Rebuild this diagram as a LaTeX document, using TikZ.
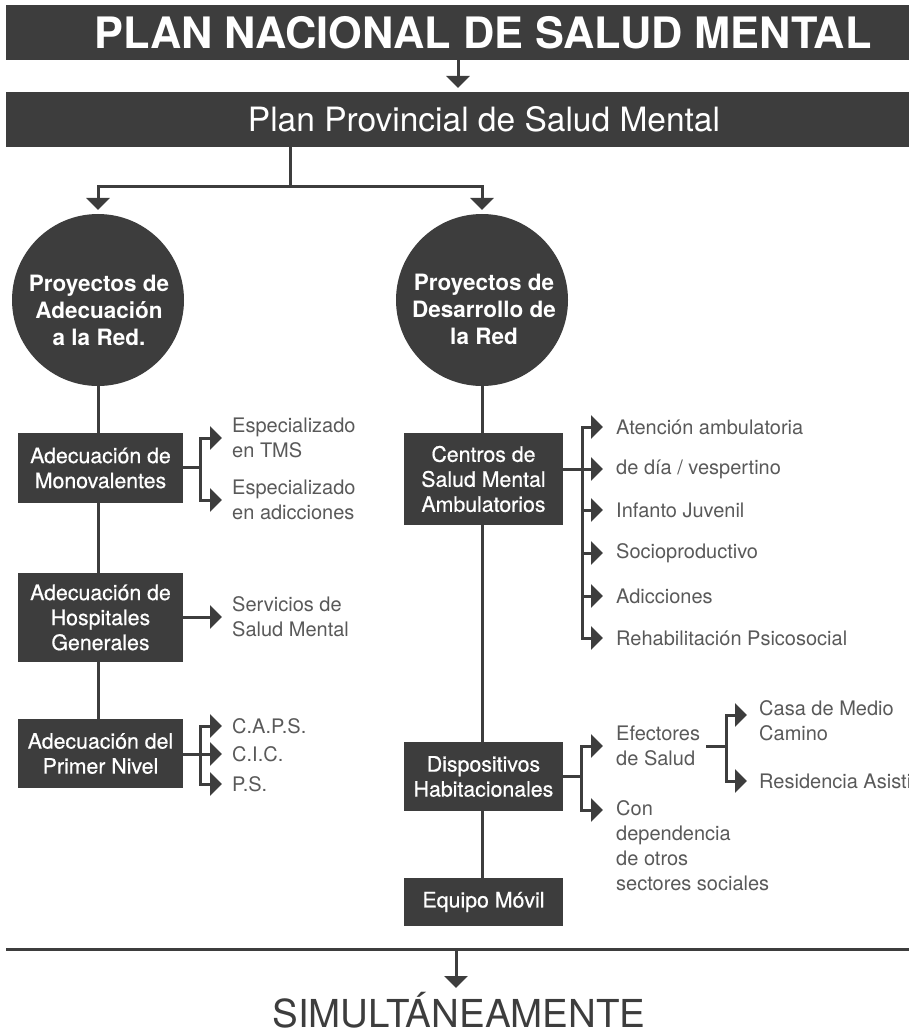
\documentclass[tikz,border=0pt]{standalone}
\usepackage{fontspec}
\setmainfont{TeX Gyre Heros}
\newfontfamily\medfont[FakeBold=0.6]{TeX Gyre Heros}
\usetikzlibrary{arrows.meta}
\definecolor{dk}{HTML}{3D3D3D}
\definecolor{lbl}{HTML}{595959}
\begin{document}
\begin{tikzpicture}[x=1pt,y=-1pt,
  conn/.style={draw=dk,line width=3pt},
  arr/.style={conn,-{Triangle[width=23pt,length=12pt]}},
  bar/.style={fill=dk,inner sep=0,minimum width=903pt,minimum height=55pt},
  box/.style={fill=dk,text=white,inner sep=0,align=center,font=\medfont\fontsize{21.3}{25}\selectfont,minimum width=165pt},
  rbox/.style={box,minimum width=159pt},
  circ/.style={circle,fill=dk,inner sep=0,minimum size=172pt},
  ctext/.style={text=white,inner sep=0,align=center,font=\fontsize{22.5}{27}\selectfont\bfseries},
  lab/.style={text=lbl,inner sep=0,align=left,anchor=west,font=\fontsize{20}{25}\selectfont},
]
\useasboundingbox (0,0) rectangle (909,1032);
% coordinates for connector columns
\coordinate (ta) at (458,0);
\coordinate (pj) at (290,187);
\coordinate (k1) at (200,0);
\coordinate (k2) at (582,0);
\coordinate (k3) at (581,0);
\coordinate (k4) at (726,0);
\coordinate (conA) at (603,810);
\coordinate (casaA) at (747,715);
\coordinate (bl) at (6,949);
\coordinate (br) at (909,949);
\coordinate (xb) at (456,949);
\coordinate (simA) at (456,988);

% labels
\node[lab] (e1) at (232,438) {Especializado\\en TMS};
\node[lab] (e2) at (232,500) {Especializado\\en adicciones};
\node[lab] (sv) at (232,617) {Servicios de\\Salud Mental};
\node[lab] (cp) at (232,726) {C.A.P.S.};
\node[lab] (ci) at (232,754) {C.I.C.};
\node[lab] (ps) at (232,784) {P.S.};
\node[lab] (r1) at (616,427) {Atención ambulatoria};
\node[lab] (r2) at (616,469) {de día / vespertino};
\node[lab] (r3) at (616,510) {Infanto Juvenil};
\node[lab] (r4) at (616,553) {Socioproductivo};
\node[lab] (r5) at (616,596) {Adicciones};
\node[lab] (r6) at (616,638) {Rehabilitación Psicosocial};
\node[lab] (ef) at (616,746) {Efectores\\de Salud};
\node[lab] (con) at (616,845.5) {Con\\dependencia\\de otros\\sectores sociales};
\node[lab] (casa) at (759,720.5) {Casa de Medio\\Camino};
\node[lab] (res) at (759,781) {Residencia Asisti};

% connectors
\draw[arr,shorten >=4pt] (ta |- 0,60) -- (ta |- 0,92);
\draw[conn] (pj |- 0,147) -- (pj);
\draw[arr] (pj) -| (98,210);
\draw[arr] (pj) -| (482,210);

\draw[conn] (98,300) -- (98,753);
\draw[conn] (482,300) -- (482,902);

\draw[conn] (183,467) -- (k1 |- 0,467);
\draw[arr,shorten >=10pt] (k1 |- 0,467) |- (e1.west);
\draw[arr,shorten >=10pt] (k1 |- 0,467) |- (e2.west);
\draw[arr,shorten >=10pt] (183,617) -- (sv.west);
\draw[arr,shorten >=10pt] (183,754) -- (ci.west);
\draw[arr,shorten >=10pt] (k1 |- ci.west) |- (cp.west);
\draw[arr,shorten >=10pt] (k1 |- ci.west) |- (ps.west);

\draw[arr,shorten >=13pt] (563,469) -- (r2.west);
\foreach \r in {r1,r3,r4,r5,r6}
  \draw[arr,shorten >=13pt] (k2 |- r2.west) |- (\r.west);

\draw[conn] (563,776) -- (k3 |- 0,776);
\draw[arr,shorten >=13pt] (k3 |- 0,776) |- (ef.west);
\draw[arr] (k3 |- 0,776) |- (conA);

\draw[conn] ([xshift=6pt]ef.east) -- (k4 |- ef.east);
\draw[arr] (k4 |- ef.east) |- (casaA);
\draw[arr,shorten >=12pt] (k4 |- ef.east) |- (res.west);

\draw[conn] (bl) -- (br);
\draw[arr] (xb) -- (simA);

% bars
\node[bar] (nat) at (457.5,32.5) {};
\node[text=white,inner sep=0,font=\fontsize{43.3}{43.3}\selectfont\bfseries] (natT) at (483,33) {PLAN NACIONAL DE SALUD MENTAL};
\node[bar] (prov) at (457.5,119.5) {};
\node[text=white,inner sep=0,font=\fontsize{33.5}{33.5}\selectfont] (provT) at (484,119.5) {Plan Provincial de Salud Mental};

% circles
\node[circ] (c1) at (98,300) {};
\node[ctext] (c1t) at (99,310) {Proyectos de\\Adecuación\\a la Red.};
\node[circ] (c2) at (482,300) {};
\node[ctext] (c2t) at (484,309) {Proyectos de\\Desarrollo de\\la Red};

% boxes
\node[box,minimum height=70pt] (b1) at (100.5,468) {Adecuación de\\Monovalentes};
\node[box,minimum height=89pt] (b2) at (100.5,617.5) {Adecuación de\\Hospitales\\Generales};
\node[box,minimum height=69pt] (b3) at (100.5,753.5) {Adecuación del\\Primer Nivel};
\node[rbox,minimum height=92pt] (cs) at (483.5,479) {Centros de\\Salud Mental\\Ambulatorios};
\node[rbox,minimum height=69pt] (dh) at (483.5,776.5) {Dispositivos\\Habitacionales};
\node[rbox,minimum height=48pt] (em) at (483.5,902) {Equipo Móvil};

\node[text=dk,inner sep=0,anchor=base,font=\fontsize{38.5}{38.5}\selectfont] (sim) at (459,1027) {SIMULTÁNEAMENTE};
\end{tikzpicture}
\end{document}
